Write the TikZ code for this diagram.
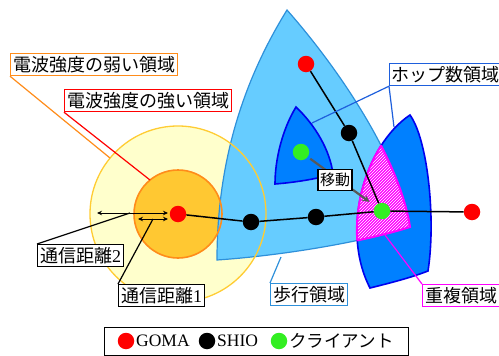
\documentclass[tikz,border=0pt]{standalone}
\usepackage{fontspec}
\setmainfont{Liberation Serif}
\newfontfamily\jp{Noto Sans CJK JP}
\usetikzlibrary{patterns,arrows.meta}
\definecolor{lyellow}{HTML}{FFFFCC}
\definecolor{ringgold}{HTML}{FFCC33}
\definecolor{coregold}{HTML}{FFC832}
\definecolor{orng}{HTML}{FF8C1A}
\definecolor{lblue}{HTML}{66CCFF}
\definecolor{lbstroke}{HTML}{2E90DA}
\definecolor{dblue}{HTML}{0080FF}
\definecolor{dbstroke}{HTML}{0000EE}
\definecolor{hopblue}{HTML}{1E5FDC}
\definecolor{mgnt}{HTML}{FF00FF}
\definecolor{cgreen}{HTML}{33EE22}
\begin{document}
\begin{tikzpicture}[x=1pt,y=-1pt,
  lbl/.style={draw, line width=1.2pt, fill=white, inner xsep=2.5pt, inner ysep=0pt,
    minimum height=22pt, anchor=north west, font=\fontsize{18}{18}\selectfont\jp},
  dot/.style={circle, inner sep=0pt, minimum size=16.5pt},
  conn/.style={line width=1.5pt, black},
  lead/.style={line width=1.2pt},
  dist/.style={line width=1pt, black, {Stealth[length=5pt,width=4.5pt]}-{Stealth[length=5pt,width=4.5pt]}},
  legtext/.style={anchor=west, inner sep=0pt, font=\fontsize{17.5}{18}\selectfont}]
\useasboundingbox (0,0) rectangle (499,356);
\def\lbpath{(287,10) .. controls (250,70) and (217,150) .. (217,260) .. controls (290,255) and (370,240) .. (410,227) .. controls (400,160) and (340,70) .. (287,10) -- cycle}
\def\dbpath{(410,115) .. controls (365,145) and (340,230) .. (370,288) .. controls (390,283) and (410,278) .. (428,271) .. controls (436,220) and (428,140) .. (410,115) -- cycle}
% radio areas
\fill[lyellow] (178,214) circle (88pt);
\fill[coregold] (178,214) circle (44pt);
% walking area
\filldraw[fill=lblue, draw=lbstroke, line width=1.2pt] \lbpath;
\draw[ringgold, line width=1.3pt] (178,214) circle (88pt);
\draw[orng, line width=1.6pt] (178,214) circle (44pt);
% hop areas
\filldraw[fill=dblue, draw=dbstroke, line width=1.6pt] (296,107) .. controls (282,130) and (275,160) .. (275,184) .. controls (300,182) and (320,178) .. (333,174) .. controls (330,150) and (315,125) .. (296,107) -- cycle;
\filldraw[fill=dblue, draw=dbstroke, line width=1.6pt] \dbpath;
% overlap
\begin{scope}
  \clip \lbpath;
  \fill[mgnt] \dbpath;
  \fill[pattern=north east lines, pattern color=white] \dbpath;
  \draw[mgnt, line width=2pt] \dbpath;
\end{scope}
\begin{scope}
  \clip \dbpath;
  \draw[mgnt, line width=2pt] \lbpath;
\end{scope}
% nodes
\node[dot, fill=red] (r0) at (178,214) {};
\node[dot, fill=red] (rt) at (306,64) {};
\node[dot, fill=red] (rr) at (472,212) {};
\node[dot, fill=black] (bk1) at (349,133) {};
\node[dot, fill=black] (bk2) at (251,222) {};
\node[dot, fill=black] (bk3) at (316,217) {};
\node[dot, fill=cgreen] (gs) at (301,152) {};
\node[dot, fill=cgreen] (gb) at (382,211) {};
% connections
\draw[conn] (rt) -- (bk1) -- (gb);
\draw[conn] (r0) -- (bk2) -- (bk3) -- (gb) -- (rr);
% movement
\draw[line width=2.2pt, black!65, -{Stealth[length=7pt,width=7pt]}, shorten <=3pt, shorten >=7pt] (gs) -- (gb);
\node[lbl, anchor=center, minimum height=21pt, inner xsep=2pt, font=\fontsize{15}{16}\selectfont\jp] (move) at (335,180) {移動};
% distance arrows
\coordinate (d2a) at (97,213);
\coordinate (d2b) at (168,213);
\coordinate (d1a) at (138,219);
\coordinate (d1b) at (168,219);
\draw[dist] (d2a) -- (d2b);
\draw[dist] (d1a) -- (d1b);
\coordinate (d2p) at (130,213);
\coordinate (d1p) at (153,219);
% labels
\node[lbl, draw=orng] (weak) at (10,53) {電波強度の弱い領域};
\node[lbl, draw=red] (strong) at (64,89) {電波強度の強い領域};
\node[lbl, draw=hopblue, inner xsep=1.5pt] (hop) at (389,63) {ホップ数領域};
\node[lbl] (dist2) at (37,244) {通信距離\fontspec{Liberation Serif}2};
\node[lbl] (dist1) at (118,284) {通信距離\fontspec{Liberation Serif}1};
\node[lbl, draw=lbstroke] (walk) at (270,283) {歩行領域};
\node[lbl, draw=mgnt] (ovl) at (422,284) {重複領域};
% leaders
\coordinate (wpt) at (110,158);
\coordinate (spt) at (150,180);
\coordinate (hp1) at (312,123);
\coordinate (hp2) at (394,127);
\coordinate (wkp) at (281,257);
\coordinate (ovp) at (385,235);
\draw[lead, orng] (weak.south west) -- (wpt);
\draw[lead, red] (strong.south west) -- (spt);
\draw[lead, hopblue] (hp1) -- (hop.south west) -- (hp2);
\draw[lead] (dist2.north west) -- (d2p);
\draw[lead] (dist1.north west) -- (d1p);
\draw[lead, lbstroke] (walk.north west) -- (wkp);
\draw[lead, mgnt] (ovl.north west) -- (ovp);
% legend
\node[draw, line width=1.2pt, minimum width=304pt, minimum height=28pt, anchor=north west, inner sep=0pt] (legend) at (104,327) {};
\node[dot, fill=red] (lg1) at (126,341) {};
\node[legtext] (lt1) at (136,341) {GOMA};
\node[dot, fill=black] (lg2) at (207,341) {};
\node[legtext] (lt2) at (217,341) {SHIO};
\node[dot, fill=cgreen] (lg3) at (279,341) {};
\node[legtext, font=\fontsize{17.5}{18}\selectfont\jp] (lt3) at (289,341) {クライアント};
\end{tikzpicture}
\end{document}
